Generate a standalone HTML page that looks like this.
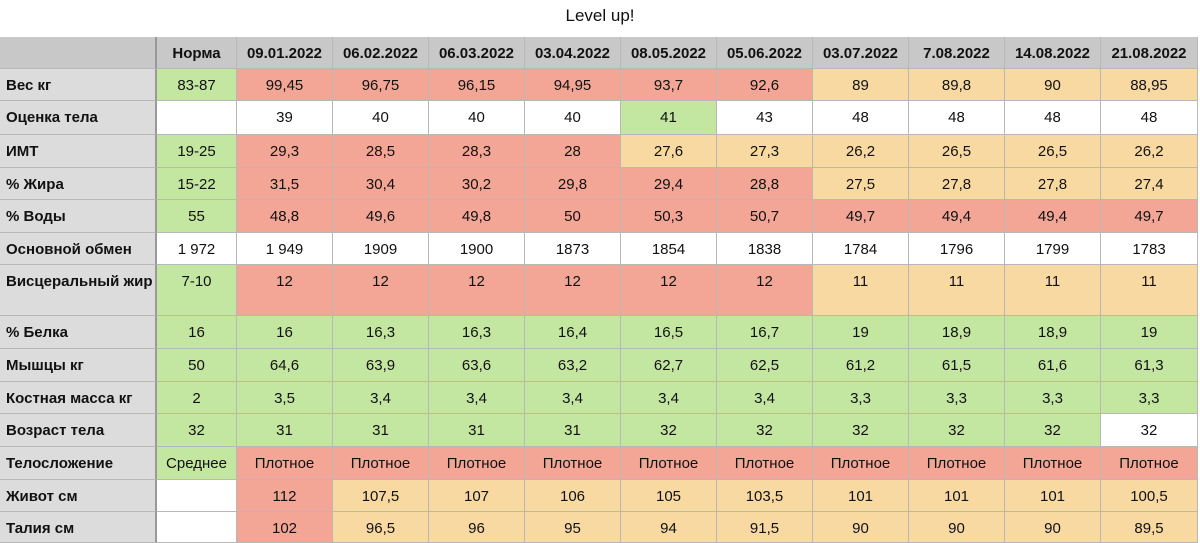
<!DOCTYPE html>
<html><head><meta charset="utf-8">
<style>
body{margin:0;background:#fff;width:1200px;height:543px;overflow:hidden;position:relative;font-family:"Liberation Sans","Noto Sans CJK SC",sans-serif;}
#title{position:absolute;top:6px;left:0;width:1200px;text-align:center;font-size:17px;color:#111;}
.c{position:absolute;box-sizing:border-box;border-right:1px solid #b8b8b8;border-bottom:1px solid #b8b8b8;font-size:15px;color:#111;text-align:center;padding-top:8px;line-height:17px;white-space:nowrap;}
.lab{text-align:left;padding-left:6px;font-weight:bold;background:#dcdcdc;white-space:normal;}
.hd{background:#c8c8c8;font-weight:bold;}
</style></head><body>
<div id="title">Level up!</div>
<div id="grid"></div>
<script>
const headers=["","Норма","09.01.2022","06.02.2022","06.03.2022","03.04.2022","08.05.2022","05.06.2022","03.07.2022","7.08.2022","14.08.2022","21.08.2022"];
const labels=["Вес кг","Оценка тела","ИМТ","% Жира","% Воды","Основной обмен","Висцеральный жир","% Белка","Мышцы кг","Костная масса кг","Возраст тела","Телосложение","Живот см","Талия см"];
const values=[
["83-87","99,45","96,75","96,15","94,95","93,7","92,6","89","89,8","90","88,95"],
["","39","40","40","40","41","43","48","48","48","48"],
["19-25","29,3","28,5","28,3","28","27,6","27,3","26,2","26,5","26,5","26,2"],
["15-22","31,5","30,4","30,2","29,8","29,4","28,8","27,5","27,8","27,8","27,4"],
["55","48,8","49,6","49,8","50","50,3","50,7","49,7","49,4","49,4","49,7"],
["1 972","1 949","1909","1900","1873","1854","1838","1784","1796","1799","1783"],
["7-10","12","12","12","12","12","12","11","11","11","11"],
["16","16","16,3","16,3","16,4","16,5","16,7","19","18,9","18,9","19"],
["50","64,6","63,9","63,6","63,2","62,7","62,5","61,2","61,5","61,6","61,3"],
["2","3,5","3,4","3,4","3,4","3,4","3,4","3,3","3,3","3,3","3,3"],
["32","31","31","31","31","32","32","32","32","32","32"],
["Среднее","Плотное","Плотное","Плотное","Плотное","Плотное","Плотное","Плотное","Плотное","Плотное","Плотное"],
["","112","107,5","107","106","105","103,5","101","101","101","100,5"],
["","102","96,5","96","95","94","91,5","90","90","90","89,5"]];
const status=["grrrrrroooo","wwwwwgwwwww","grrrrooooo o".replace(" ",""),"grrrrrroooo","grrrrrrrrrr","wwwwwwwwwww","grrrrrroooo","ggggggggggg","ggggggggggg","ggggggggggg","ggggggggggw","grrrrrrrrrr","wrooooooooo","wrooooooooo"];
const colors={g:"#c3e6a0",r:"#f3a695",o:"#f8d9a2",w:"#ffffff"};
const colX=[0,157,237,333,429,525,621,717,813,909,1005,1101,1198];
const rowY=[37,69,101,135,168,200,233,265,316,349,382,414,447,480,512,543];
const g=document.getElementById('grid');
function cell(x0,x1,y0,y1,txt,cls,bg){
  const d=document.createElement('div');
  d.className='c '+cls;
  d.style.left=x0+'px';d.style.width=(x1-x0)+'px';
  d.style.top=y0+'px';d.style.height=(y1-y0)+'px';
  if(bg)d.style.background=bg;
  d.textContent=txt;
  g.appendChild(d);return d;
}
headers.forEach((h,i)=>{
  const d=cell(colX[i],colX[i+1],rowY[0],rowY[1],h,'hd');
  
  
  if(i==0||i==1)d.style.borderRight=i==0?'2px solid #999':'1px solid #b8b8b8';
});
labels.forEach((l,r)=>{
  const d=cell(colX[0],colX[1],rowY[r+1],rowY[r+2],l,'lab');
  
  
  d.style.borderRight='2px solid #999';
  values[r].forEach((v,c)=>{
    const e=cell(colX[c+1],colX[c+2],rowY[r+1],rowY[r+2],v,'',colors[status[r][c]]);
    
    
  });
});
</script>
</body></html>
